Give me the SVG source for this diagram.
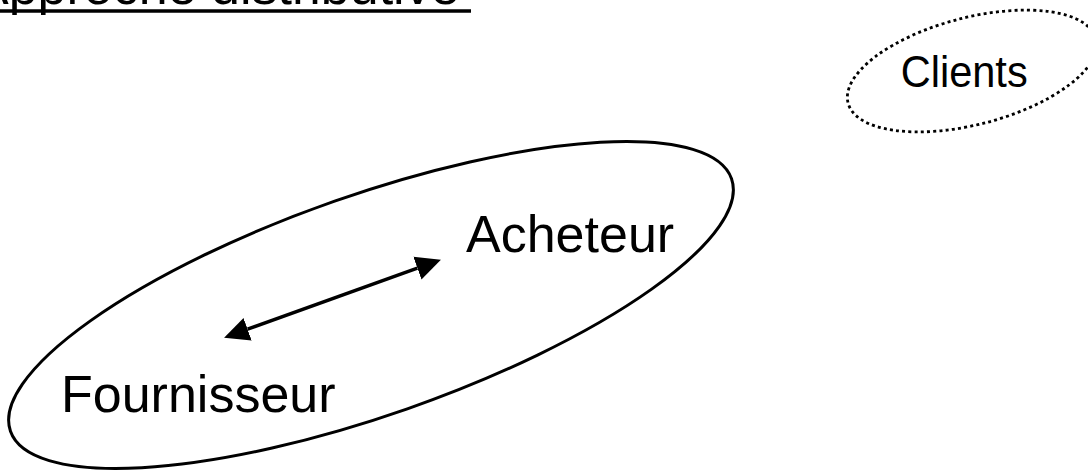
<svg xmlns="http://www.w3.org/2000/svg" width="1088" height="471" viewBox="0 0 1088 471">
  <style>
    .lbl { font-family: "Liberation Sans", Arial, sans-serif; fill: #000; }
    .outline { fill: none; stroke: #000; stroke-width: 3; }
    .dotted { fill: none; stroke: #000; stroke-width: 2.8; stroke-dasharray: 3 3.2; }
    .link { fill: none; stroke: #000; stroke-width: 3.5; }
  </style>
  <defs>
    <marker id="head" viewBox="0 -13 26 26" refX="0" refY="0" markerWidth="26" markerHeight="26" markerUnits="userSpaceOnUse" orient="auto-start-reverse">
      <path d="M0,-12 L25,0 L0,12 z" fill="#000"/>
    </marker>
  </defs>
  <rect width="1088" height="471" fill="#fff"/>

  <!-- heading, partly above the top edge -->
  <g id="title">
    <text class="lbl" x="-26" y="4" font-size="52">Approche distributive</text>
    <line x1="-26" y1="11" x2="471" y2="11" stroke="#000" stroke-width="3.3"/>
  </g>

  <!-- dotted boundary around clients -->
  <g id="clients">
    <ellipse class="dotted" cx="972" cy="71" rx="128" ry="53.5" transform="rotate(-14.5 972 71)"/>
    <text class="lbl" x="900.7" y="86.7" font-size="44" textLength="127" lengthAdjust="spacingAndGlyphs">Clients</text>
  </g>

  <!-- solid boundary holding supplier and buyer -->
  <g id="relation">
    <ellipse class="outline" cx="371" cy="305" rx="382" ry="110" transform="rotate(-19.3 371 305)"/>
  </g>

  <g id="acheteur">
    <text class="lbl" x="466" y="252" font-size="52">Acheteur</text>
  </g>

  <g id="fournisseur">
    <text class="lbl" x="61" y="412" font-size="52">Fournisseur</text>
  </g>

  <g id="connectors">
    <line class="link" x1="247.6" y1="329.2" x2="417.4" y2="268.1" marker-start="url(#head)" marker-end="url(#head)"/>
  </g>
</svg>
